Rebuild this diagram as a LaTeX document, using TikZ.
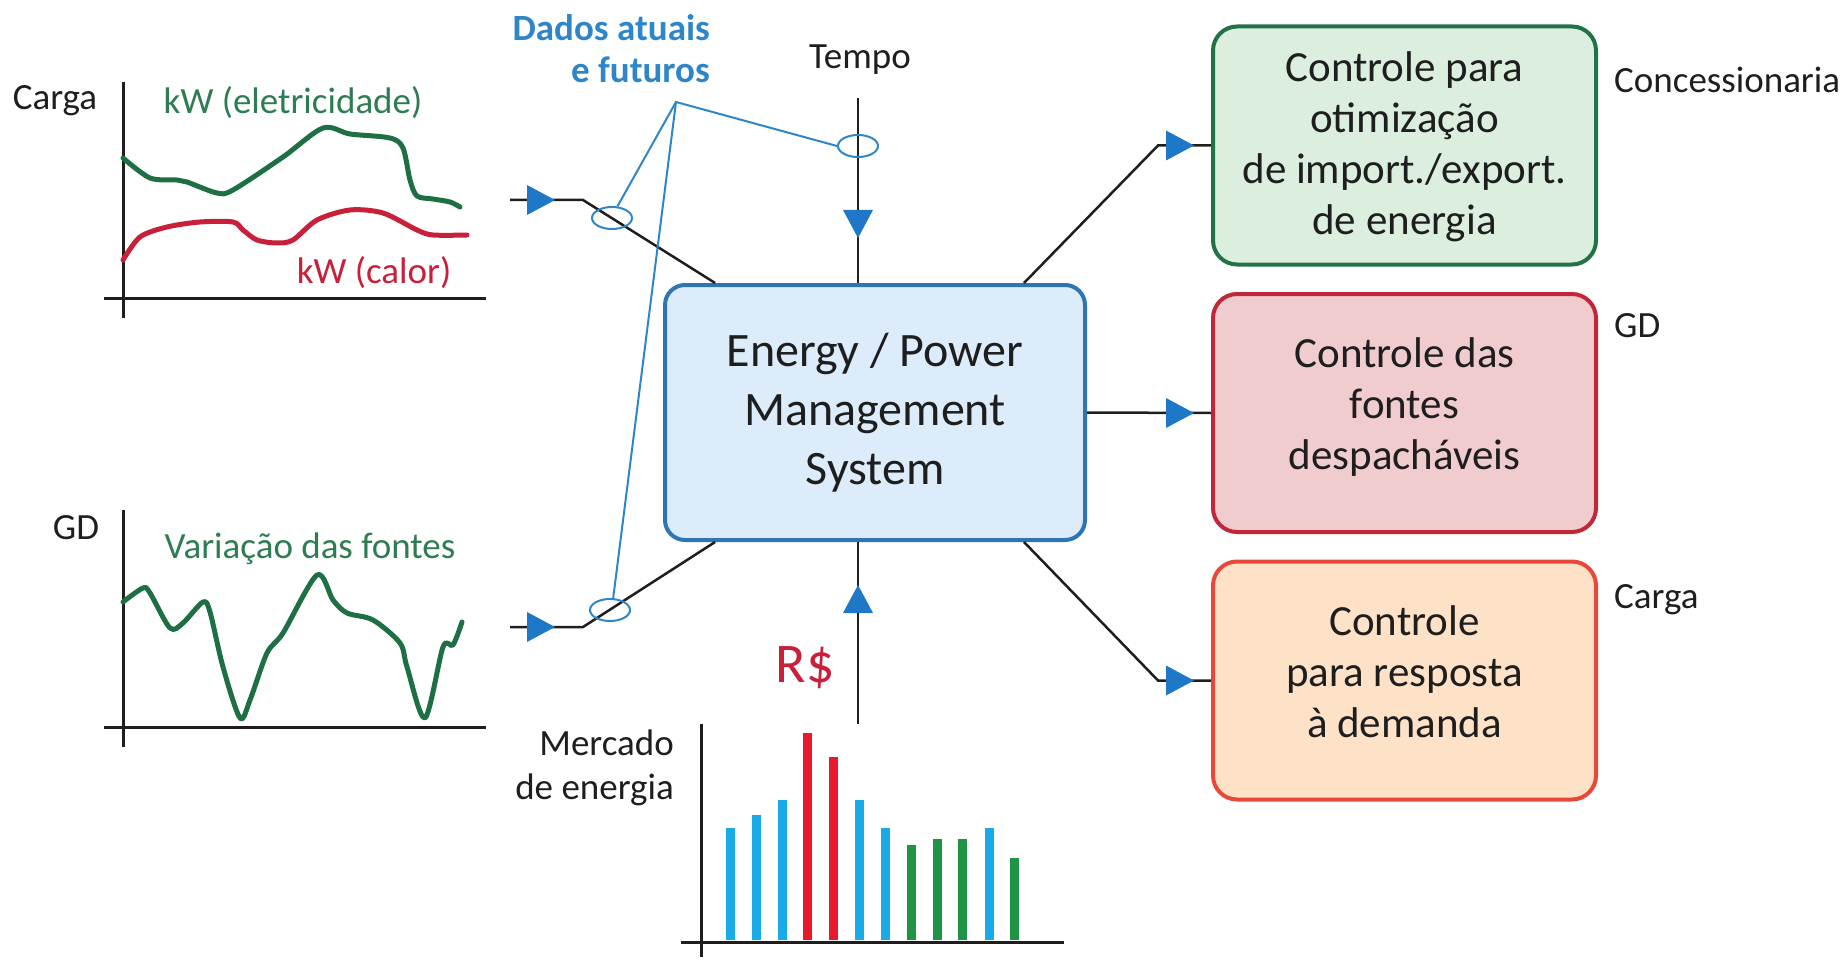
\documentclass[tikz,border=0pt]{standalone}
\usepackage{fontspec}
\setmainfont{Carlito}
\usetikzlibrary{shapes.geometric}

\definecolor{emsblue}{RGB}{46,117,182}
\definecolor{emsfill}{RGB}{221,236,250}
\definecolor{arrowblue}{RGB}{31,119,200}
\definecolor{calloutblue}{RGB}{46,134,200}
\definecolor{curvegreen}{RGB}{30,112,68}
\definecolor{textgreen}{RGB}{46,125,82}
\definecolor{curvered}{RGB}{200,32,58}
\definecolor{gridborder}{RGB}{33,115,70}
\definecolor{gridfill}{RGB}{220,238,222}
\definecolor{dispborder}{RGB}{192,40,58}
\definecolor{dispfill}{RGB}{240,204,206}
\definecolor{demborder}{RGB}{232,72,58}
\definecolor{demfill}{RGB}{253,226,200}
\definecolor{barblue}{RGB}{25,170,232}
\definecolor{barred}{RGB}{230,25,45}
\definecolor{bargreen}{RGB}{30,148,68}
\definecolor{ink}{RGB}{30,30,30}

\tikzset{
  flowtip/.pic={\fill[arrowblue] (0,0) -- (-28,-15) -- (-28,15) -- cycle;}
}

\begin{document}
\begin{tikzpicture}[x=1pt,y=-1pt,
  conn/.style={draw=ink, line width=2.5pt},
  callout/.style={draw=calloutblue, line width=2pt},
  axis/.style={draw=ink, line width=3pt},
  curve/.style={line width=5pt, line join=round, line cap=round},
  bar/.style={line width=9pt},
  lbl/.style={font=\fontsize{37}{44}\selectfont, inner sep=0pt, text=ink},
  ctlbox/.style={rounded corners=24pt, line width=4pt, minimum width=383pt,
    minimum height=238pt, inner sep=0pt},
  ctltext/.style={align=center, inner sep=0pt, text=ink,
    font=\fontsize{43}{51}\selectfont},
  ring/.style={ellipse, draw=calloutblue, line width=2pt, minimum width=40pt,
    minimum height=22pt, inner sep=0pt}
]
\useasboundingbox (0,0) rectangle (1847,960);

% ---------- central management block ----------
\node[draw=emsblue, fill=emsfill, line width=4pt, rounded corners=20pt,
  minimum width=420pt, minimum height=255pt, align=center, inner sep=0pt,
  text=ink, font=\fontsize{48}{59}\selectfont]
  (ems) at (875,412.5) {Energy / Power\\Management\\System};

% ---------- control blocks ----------
\node[ctlbox, draw=gridborder, fill=gridfill] (ctlgrid) at (1404.5,145.5) {};
\node[ctltext] (txtgrid) at (1404.5,146.5)
  {Controle para\\otimização\\de import./export.\\de energia};
\node[ctlbox, draw=dispborder, fill=dispfill] (ctldisp) at (1404.5,413) {};
\node[ctltext] (txtdisp) at (1404.5,407) {Controle das\\fontes\\despacháveis};
\node[ctlbox, draw=demborder, fill=demfill] (ctldemand) at (1404.5,680.5) {};
\node[ctltext] (txtdemand) at (1404.5,672) {Controle\\para resposta\\à demanda};

\node[lbl, anchor=west] (lblgrid) at (1614,80) {Concessionaria};
\node[lbl, anchor=west] (lbldisp) at (1614,326) {GD};
\node[lbl, anchor=west] (lbldemand) at (1614,600) {Carga};

% ---------- load chart ----------
\node[lbl] (lblload) at (55,101) {Carga};
\draw[axis] (123,82) -- (123,318);
\draw[axis] (104,298) -- (486,298);
\draw[curve, curvegreen] plot[smooth, tension=0.5] coordinates {
  (123,158) (150,178) (177,180) (187,182) (217,193) (233,190) (283,157)
  (323,128) (350,134) (390,138) (403,148) (410,180) (417,196) (433,199)
  (450,202) (460,207)};
\draw[curve, curvered] plot[smooth, tension=0.5] coordinates {
  (123,260) (140,237) (167,227) (200,222) (233,222) (243,230) (257,240)
  (277,243) (293,240) (317,220) (350,210) (383,213) (417,230) (433,235)
  (467,235)};
\node[lbl, text=textgreen] (lblelec) at (293,103) {kW (eletricidade)};
\node[lbl, text=curvered] (lblheat) at (374,273) {kW (calor)};

% ---------- generation chart ----------
\node[lbl] (lblgen) at (76,528) {GD};
\draw[axis] (123,510) -- (123,747);
\draw[axis] (104,727) -- (486,727);
\draw[curve, curvegreen] plot[smooth, tension=0.5] coordinates {
  (123,602) (143,588) (150,593) (170,628) (183,623) (203,602) (210,612)
  (223,667) (240,718) (250,700) (267,653) (283,633) (317,575) (333,600)
  (347,613) (373,620) (400,643) (407,667) (425,718) (443,647) (453,645)
  (462,622)};
\node[lbl, text=textgreen] (lblvar) at (310,549) {Variação das fontes};

% ---------- inputs ----------
\coordinate (loadout) at (510,200);
\coordinate (loadbend) at (583,200);
\coordinate (genout) at (510,627);
\coordinate (genbend) at (583,627);
\draw[conn] (loadout) -- (loadbend) -- (ems.141);
\draw[conn] (genout) -- (genbend) -- (ems.-141);
\pic at (555,200) {flowtip};
\pic at (555,627) {flowtip};

\node[lbl] (lbltime) at (860,60) {Tempo};
\coordinate (timetop) at (858,98);
\draw[conn] (timetop) -- (timetop |- ems.north);
\pic[rotate=-90] at (858,238) {flowtip};

% ---------- current and forecast data callout ----------
\node[lbl, font=\fontsize{37}{42}\bfseries\selectfont, text=calloutblue,
  align=right, anchor=east] (lbldata) at (710,49) {Dados atuais\\e futuros};
\node[ring] (ringload) at (612,218) {};
\node[ring] (ringtime) at (858,146) {};
\node[ring] (ringgen) at (610,610) {};
\coordinate (apex) at (676,102);
\draw[callout] (ringload.65) -- (apex) -- (ringtime.west);
\draw[callout] (apex) -- (ringgen.75);

% ---------- outputs ----------
\coordinate (bendgrid) at (1158,145.5);
\coordinate (benddemand) at (1158,680.5);
\draw[conn] (ems.41.3) -- (bendgrid) -- (ctlgrid.west);
\draw[conn] (ems.east) -- (ctldisp.west);
\draw[conn] (ems.-41.3) -- (benddemand) -- (ctldemand.west);
\pic at (1194,145.5) {flowtip};
\pic at (1194,413) {flowtip};
\pic at (1194,680.5) {flowtip};

% ---------- energy market ----------
\coordinate (mkttop) at (858,724);
\draw[conn] (mkttop) -- (mkttop |- ems.south);
\pic[rotate=90] at (858,585) {flowtip};
\node[inner sep=0pt, text=curvered, font=\fontsize{56}{60}\selectfont]
  (lblprice) at (805,668) {R\$};
\node[lbl, align=right, anchor=east] (lblmkt) at (674,768) {Mercado\\de energia};
\draw[axis] (701,724) -- (701,957);
\draw[axis] (681,942) -- (1064,942);
\foreach \bx/\by/\bc in {730/828/barblue, 756/815/barblue, 782/800/barblue,
    807/733/barred, 833/757/barred, 859/800/barblue, 885/828/barblue,
    911/845/bargreen, 937/839/bargreen, 962/839/bargreen, 989/828/barblue,
    1014/858/bargreen}
  \draw[bar, draw=\bc] (\bx,940) -- (\bx,\by);
\end{tikzpicture}
\end{document}
